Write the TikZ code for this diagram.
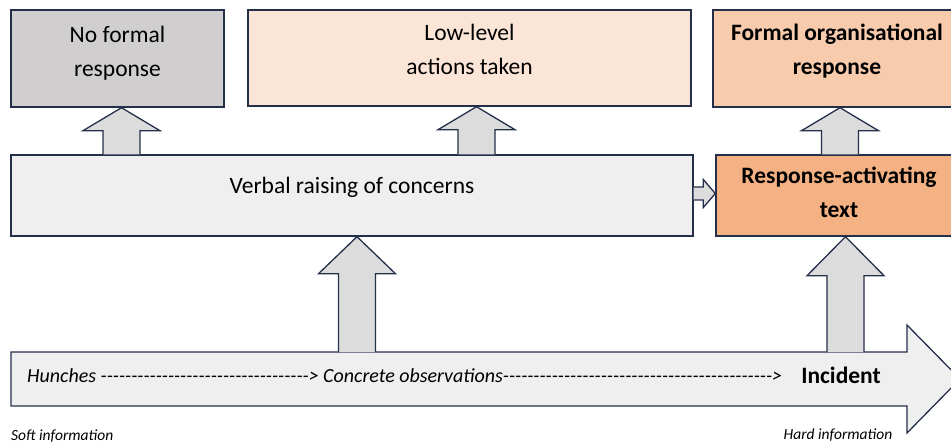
\documentclass[tikz,border=0pt]{standalone}
\usepackage{fontspec}
\setmainfont{Carlito}[Ligatures=TeXOff]
\usetikzlibrary{calc}

\definecolor{edge}{HTML}{24304A}
\definecolor{nogray}{HTML}{D0CECE}
\definecolor{lowpeach}{HTML}{FBE5D6}
\definecolor{formalpeach}{HTML}{F8CBAD}
\definecolor{activorange}{HTML}{F4B183}
\definecolor{lightgray}{HTML}{EFEFEF}
\definecolor{arrowgray}{HTML}{DCDCDC}

% text block shifted up inside its box, box size kept
\newcommand{\lift}[2]{\raisebox{#1}[\height][\depth]{\begin{tabular}{@{}c@{}}#2\end{tabular}}}

% fat arrow going up: x, lower anchor, upper anchor, head length
\newcommand{\fatup}[4]{%
  \draw[fatarrow] let \p1=(#2), \p2=(#3) in
    (#1-18.5,\y1) -- (#1-18.5,\y2-#4) -- (#1-38.5,\y2-#4) -- (#1,\y2)
    -- (#1+38.5,\y2-#4) -- (#1+18.5,\y2-#4) -- (#1+18.5,\y1);
}

\tikzset{
  box/.style={draw=edge, line width=1.4pt, inner sep=0pt,
    font=\fontsize{23.5}{34}\selectfont},
  fatarrow/.style={draw=edge, line width=1.3pt, fill=arrowgray, line join=miter},
}

\begin{document}
\begin{tikzpicture}[x=1pt,y=1pt]
\useasboundingbox (0,0) rectangle (951,445);

% top row
\node[box, fill=nogray, minimum width=213, minimum height=97] (noformal)
  at (117.5,386.5) {\lift{6pt}{No formal\\response}};
\node[box, fill=lowpeach, minimum width=443, minimum height=96] (lowlevel)
  at (469.5,387) {\lift{7pt}{Low-level\\actions taken}};
\node[box, fill=formalpeach, minimum width=248, minimum height=97] (formal)
  at (837,386.5) {\lift{7.5pt}{\bfseries Formal organisational\\\bfseries response}};

% middle row
\node[box, fill=lightgray, minimum width=682, minimum height=81] (verbal)
  at (352,249.5) {\lift{8.5pt}{Verbal raising of concerns}};
\node[box, fill=activorange, minimum width=246, minimum height=81] (activating)
  at (839,249.5) {\lift{1.5pt}{\bfseries Response-activating\\\bfseries text}};

% timeline arrow
\draw[fatarrow, fill=lightgray] (11,39) -- (907,39) -- (907,12) -- (960,66)
  -- (907,120) -- (907,93) -- (11,93) -- cycle;
\coordinate (tltop) at (11,93);
\node[anchor=west, inner sep=0pt, font=\fontsize{20}{24}\selectfont\itshape] (hunches) at (27,69)
  {Hunches ----------------------------------> Concrete observations-------------------------------------------->};
\node[inner sep=0pt, font=\fontsize{23.5}{26}\selectfont\bfseries] (incident) at (841,70) {Incident};
\node[anchor=west, inner sep=0pt, font=\fontsize{15.5}{18}\selectfont\itshape] (soft) at (11,9) {Soft information};
\node[inner sep=0pt, font=\fontsize{15.5}{18}\selectfont\itshape] (hard) at (838,10) {Hard information};

% fat arrows
\fatup{121.5}{verbal.north}{noformal.south}{23}
\fatup{476.5}{verbal.north}{lowlevel.south}{23}
\fatup{840}{activating.north}{formal.south}{23}
\fatup{357}{tltop}{verbal.south}{37}
\fatup{845.5}{tltop}{activating.south}{39}
\draw[fatarrow] let \p1=(verbal.east), \p2=(activating.west) in
  (\x1,\y1-4.5) -- (\x2-12,\y1-4.5) -- (\x2-12,\y1-12) -- (\x2,\y1+2)
  -- (\x2-12,\y1+16) -- (\x2-12,\y1+8.5) -- (\x1,\y1+8.5);
\end{tikzpicture}
\end{document}
